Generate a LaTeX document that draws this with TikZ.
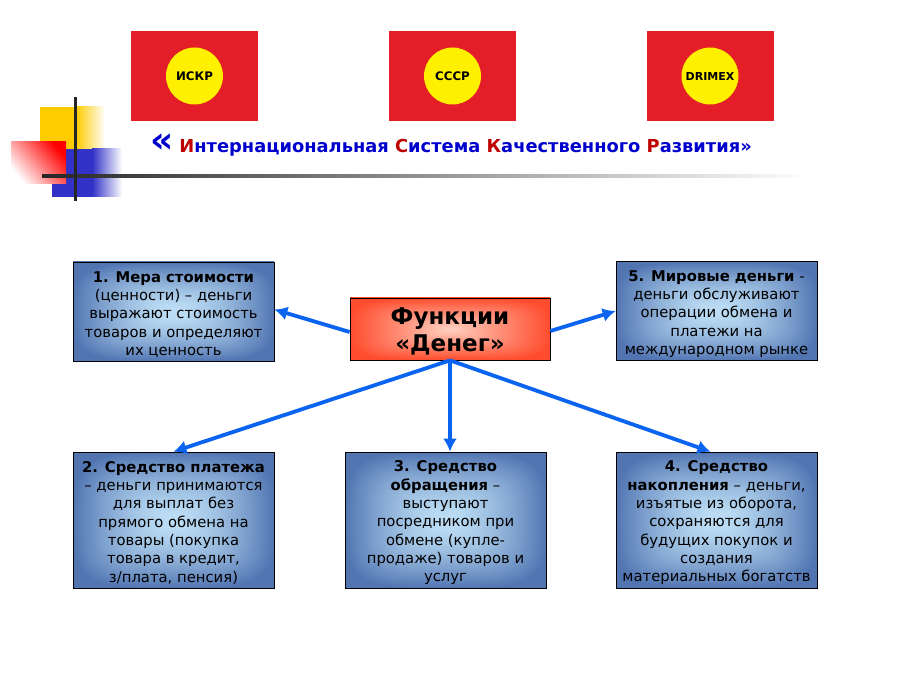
\documentclass[tikz,border=0pt]{standalone}
\usepackage{fontspec}
\setmainfont{DejaVu Sans}
\usetikzlibrary{positioning,calc,arrows.meta}

\pgfdeclarefunctionalshading{blueglow}{\pgfpoint{-50bp}{-50bp}}{\pgfpoint{50bp}{50bp}}{}{
  dup mul dup mul exch dup mul dup mul add sqrt sqrt 25 div dup 1 gt {pop 1} if dup sqrt mul
  dup 0.42 mul 0.74 exch sub exch
  dup 0.41 mul 0.87 exch sub exch
  0.26 mul 0.96 exch sub
}
\pgfdeclarefunctionalshading{redglow}{\pgfpoint{-50bp}{-50bp}}{\pgfpoint{50bp}{50bp}}{}{
  dup mul dup mul exch dup mul dup mul add sqrt sqrt 25 div dup 1 gt {pop 1} if
  dup 0.00 mul 1.00 exch sub exch
  dup 0.52 mul 0.82 exch sub exch
  0.58 mul 0.76 exch sub
}
\newcommand{\lowerinfo}{\rule{0pt}{16.5pt}}
\newcommand{\lowerfunc}{\rule{0pt}{22pt}}
\definecolor{flagred}{RGB}{227,30,40}
\definecolor{flagyellow}{RGB}{255,240,0}
\definecolor{titleblue}{RGB}{0,0,205}
\definecolor{titlered}{RGB}{190,0,0}
\definecolor{arrowblue}{RGB}{10,100,240}
\definecolor{markyellow}{RGB}{255,204,0}
\definecolor{markblue}{RGB}{50,50,200}
\tikzset{
  flagbox/.style={fill=flagred, minimum width=127pt, minimum height=90pt, inner sep=0pt},
  flagdisc/.style={circle, fill=flagyellow, minimum size=57pt, inner sep=0pt, font=\fontsize{11.8}{12}\selectfont\bfseries},
  infobox/.style={draw=black, line width=0.7pt, shading=blueglow, minimum width=201pt, align=center, inner sep=0pt, font=\fontsize{14.8}{18.3}\selectfont},
  funcbox/.style={draw=black, line width=0.7pt, shading=redglow, minimum width=200pt, minimum height=62pt, align=center, inner sep=0pt, font=\fontsize{23}{27}\selectfont\bfseries},
  pointer/.style={draw=arrowblue, line width=3.8pt, -{Latex[length=13pt,width=14pt]}},
}

\begin{document}
\begin{tikzpicture}[x=1pt, y=-1pt]
  \useasboundingbox (0, 0) rectangle (903, 676);
  \fill [white] (0, 0) rectangle (903, 676);
  % flags
  \node [flagbox] (flagA) at (194.5, 76) {};
  \node [flagbox] (flagB) at (452.5, 76) {};
  \node [flagbox] (flagC) at (710, 76) {};
  \node [flagdisc] (discA) at (flagA) {ИСКР};
  \node [flagdisc] (discB) at (flagB) {СССР};
  \node [flagdisc, font=\fontsize{11}{12}\selectfont\bfseries] (discC) at (flagC) {DRIMEX};
  % corner mark
  \fill [markyellow] (40, 107) rectangle (76, 150);
  \shade [left color=markyellow, right color=white] (76, 107) rectangle (105, 150);
  \fill [markblue] (52, 149) rectangle (92, 197);
  \shade [left color=markblue, right color=white] (92, 149) rectangle (122, 197);
  \shade [top color=red, bottom color=white, shading angle=-50] (11, 142) rectangle (66, 184);
  \shade [left color=black!85, right color=white] (42, 175) rectangle (810, 177.6);
  \fill [black!85] (74, 97) rectangle (77, 201);
  % title
  \node [anchor=base west, inner sep=0pt, font=\fontsize{17.85}{20}\selectfont\bfseries, text=titleblue] (title) at (150, 153)
    {{\fontsize{36}{36}\selectfont «}\hspace{6pt}\textcolor{titlered}{И}нтернациональная \textcolor{titlered}{С}истема \textcolor{titlered}{К}ачественного \textcolor{titlered}{Р}азвития»};
  % boxes
  \node [funcbox] (funcs) at (450, 329) {\lowerfunc Функции\\«Денег»};
  \node [infobox, minimum height=99pt] (mera) at (173.5, 311.5) {\lowerinfo\textbf{1. Мера стоимости}\\(ценности) – деньги\\выражают стоимость\\товаров и определяют\\их ценность};
  \node [infobox, minimum height=99pt] (world) at (716.5, 311) {\lowerinfo\textbf{5. Мировые деньги} -\\деньги обслуживают\\операции обмена и\\платежи на\\международном рынке};
  \node [infobox, minimum height=136pt] (pay) at (173.5, 520) {\lowerinfo\textbf{2. Средство платежа}\\– деньги принимаются\\для выплат без\\прямого обмена на\\товары (покупка\\товара в кредит,\\з/плата, пенсия)};
  \node [infobox, minimum height=136pt] (circ) at (445.5, 520) {\lowerinfo\textbf{3. Средство}\\\textbf{обращения} –\\выступают\\посредником при\\обмене (купле-\\продаже) товаров и\\услуг};
  \node [infobox, minimum height=136pt] (save) at (716.5, 520) {\lowerinfo\textbf{4. Средство}\\\textbf{накопления} – деньги,\\изъятые из оборота,\\сохраняются для\\будущих покупок и\\создания\\материальных богатств};
  % arrows
  \draw [pointer] ([yshift=-3pt]funcs.west) -- ([yshift=2pt]mera.east);
  \draw [pointer] ([yshift=-2pt]funcs.east) -- (world.west);
  \draw [pointer] (funcs.south) -- (pay.north);
  \draw [pointer] (funcs.south) -- (funcs.south |- circ.north);
  \draw [pointer] (funcs.south) -- ([xshift=-6pt]save.north);
\end{tikzpicture}
\end{document}
